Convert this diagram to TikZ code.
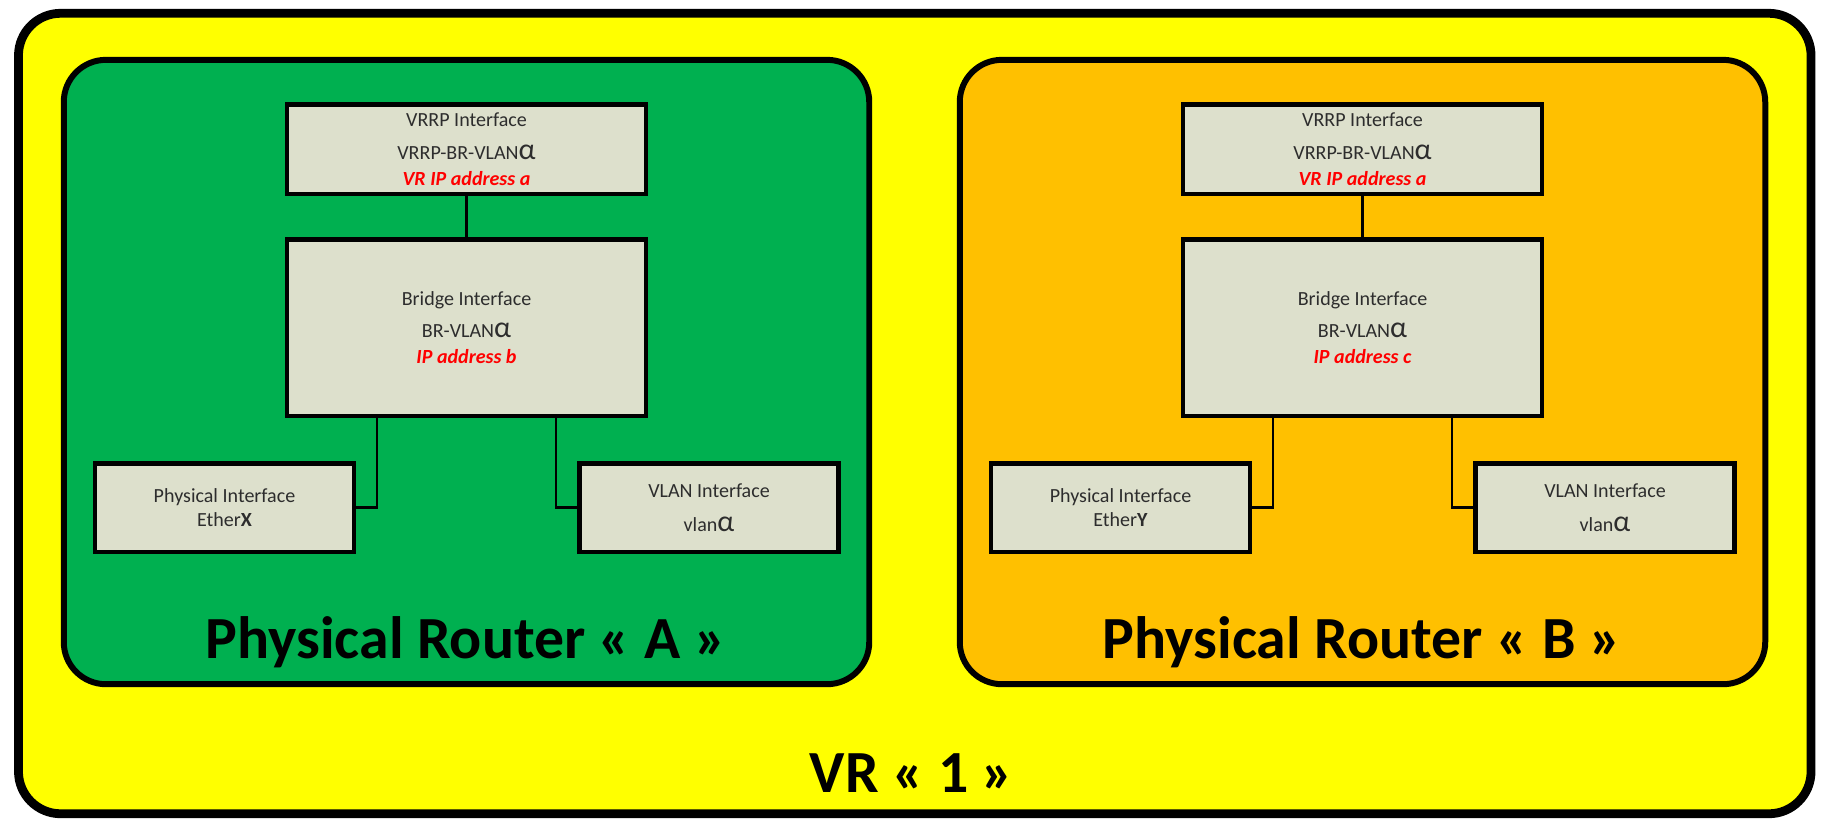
\documentclass[tikz,border=0pt]{standalone}
\usepackage{fontspec}
\setmainfont{Carlito}
\usetikzlibrary{positioning,backgrounds}
\definecolor{vrBg}{RGB}{255,255,0}
\definecolor{routerABg}{RGB}{0,176,80}
\definecolor{routerBBg}{RGB}{255,192,0}
\definecolor{ifaceBg}{RGB}{221,224,204}
\definecolor{ifaceText}{RGB}{45,45,45}
\definecolor{addrRed}{RGB}{255,0,0}
\newcommand{\ipaddr}[1]{\textcolor{addrRed}{\bfseries\itshape #1}}
\newcommand{\valpha}{{\fontsize{8.5}{8}\selectfont α}}
\tikzset{
  iface/.style={rectangle,draw=black,line width=1.3pt,fill=ifaceBg,
    text=ifaceText,font=\fontsize{5.7}{7.4}\selectfont,align=center,
    inner sep=1pt},
  vrrpbox/.style={iface,minimum width=3.585cm,minimum height=0.895cm},
  bridgebox/.style={iface,minimum width=3.585cm,minimum height=1.765cm},
  portbox/.style={iface,minimum width=2.585cm,minimum height=0.885cm},
  wire/.style={line width=0.7pt,color=black},
  routerbox/.style={rectangle,rounded corners=12pt,draw=black,
    line width=1.7pt,minimum width=8.05cm,minimum height=6.24cm,
    inner sep=0pt},
  vrbox/.style={rectangle,rounded corners=12pt,draw=black,line width=2.5pt,
    fill=vrBg,minimum width=17.915cm,minimum height=8cm,inner sep=0pt},
  bigtitle/.style={font=\fontsize{17}{20}\selectfont\bfseries,text=black,
    anchor=base,inner sep=0pt},
}

\begin{document}
\begin{tikzpicture}[x=0.01cm,y=-0.01cm]
\useasboundingbox (0,0) rectangle (1822,820);

% =====================================================================
%  PHYSICAL ROUTER A  (green, left)
% =====================================================================
\node[vrrpbox]   (vrrpA) at (466.5,149)   {VRRP Interface\\[2pt]VRRP-BR-VLAN\valpha\\\ipaddr{VR IP address a}};
\node[bridgebox] (brA)   at (466.5,327.5) {Bridge Interface\\[1.7pt]BR-VLAN\valpha\\\ipaddr{IP address b}};
\node[portbox]   (phyA)  at (224.5,507.5) {Physical Interface\\[-0.6pt]Ether\textbf{X}};
\node[portbox]   (vlanA) at (709,507.5)   {VLAN Interface\\[2.2pt]vlan\valpha};
\node[bigtitle]  (titleA) at (466,658) {Physical Router « A »};

\draw[wire] (vrrpA.south) -- (brA.north);
\draw[wire] (phyA.east) -| ([xshift=-0.895cm]brA.south);
\draw[wire] (vlanA.west) -| ([xshift=0.895cm]brA.south);

% =====================================================================
%  PHYSICAL ROUTER B  (orange, right)
% =====================================================================
\node[vrrpbox]   (vrrpB) at (1362.5,149)   {VRRP Interface\\[2pt]VRRP-BR-VLAN\valpha\\\ipaddr{VR IP address a}};
\node[bridgebox] (brB)   at (1362.5,327.5) {Bridge Interface\\[1.7pt]BR-VLAN\valpha\\\ipaddr{IP address c}};
\node[portbox]   (phyB)  at (1120.5,507.5) {Physical Interface\\[-0.6pt]Ether\textbf{Y}};
\node[portbox]   (vlanB) at (1605,507.5)   {VLAN Interface\\[2.2pt]vlan\valpha};
\node[bigtitle]  (titleB) at (1362,658) {Physical Router « B »};

\draw[wire] (vrrpB.south) -- (brB.north);
\draw[wire] (phyB.east) -| ([xshift=-0.895cm]brB.south);
\draw[wire] (vlanB.west) -| ([xshift=0.895cm]brB.south);

% =====================================================================
%  VR 1 label
% =====================================================================
\node[bigtitle] (titleVR) at (912,792) {VR « 1 »};

% =====================================================================
%  BACKGROUND REGIONS
% =====================================================================
\begin{scope}[on background layer]
  \node[vrbox] (vr1) at (914.75,413.5) {};
  \node[routerbox,fill=routerABg] (rtrA) at (466.5,372) {};
  \node[routerbox,fill=routerBBg] (rtrB) at (1362.5,372) {};
\end{scope}

\end{tikzpicture}
\end{document}
